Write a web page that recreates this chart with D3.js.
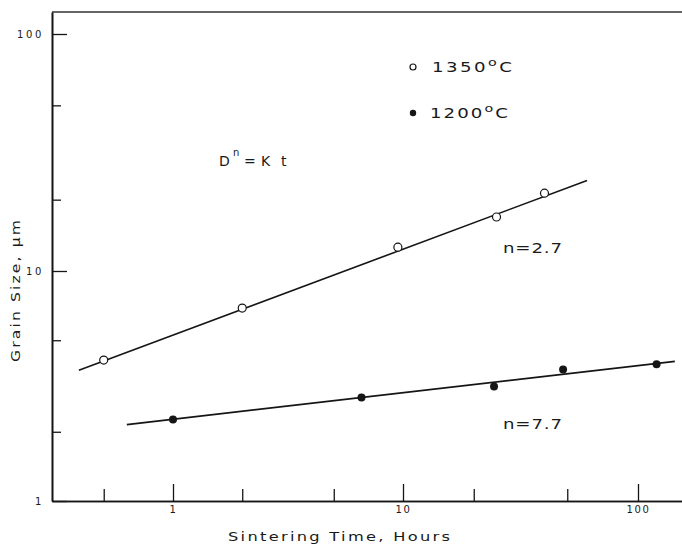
<!DOCTYPE html>
<html>
<head>
<meta charset="utf-8">
<script src="https://cdn.jsdelivr.net/npm/d3@7"></script>
<style>
  body { margin: 0; background: #fff; }
  text { font-family: "DejaVu Sans", sans-serif; fill: #1a1a1a; }
</style>
</head>
<body>
<div id="chart"></div>
<script>
// grain size (um) vs sintering time (hours)
const hours1350 = [0.5, 2, 9.5, 25, 40];
const grain1350 = [4.1, 6.9, 12.6, 16.9, 21.3];
const hours1200 = [1, 6.6, 24.4, 48, 120];
const grain1200 = [2.26, 2.82, 3.15, 3.73, 3.93];

// fitted lines, end points only
const fitHours1350 = [0.39, 60.7];
const fitGrain1350 = [3.70, 24.1];
const fitHours1200 = [0.63, 143.6];
const fitGrain1200 = [2.15, 4.05];

const xMajor = [1, 10, 100];
const xMinor = [0.5, 2, 5, 20, 50];
const yMajor = [1, 10, 100];
const yMinor = [2, 5, 20, 50];

const width = 682, height = 545;

// the scanned decades are not quite equal, so the log scales are piecewise
const x = d3.scaleLog()
  .domain([0.298, 1, 10, 100, 154])
  .range([52, 173, 403, 638, 682]);
const y = d3.scaleLog()
  .domain([1, 10, 100, 124])
  .range([501, 271, 34, 12]);

const svg = d3.select("#chart").append("svg")
  .attr("width", width)
  .attr("height", height);

const ink = "#151515";

// x axis, ticks point up into the plot
svg.append("g")
  .attr("transform", "translate(0," + y(1) + ")")
  .call(d3.axisBottom(x).tickValues(xMajor).tickSize(-17).tickSizeOuter(0)
    .tickPadding(5).tickFormat(d3.format("d")));
svg.append("g")
  .attr("transform", "translate(0," + y(1) + ")")
  .call(d3.axisBottom(x).tickValues(xMinor).tickSize(-12).tickSizeOuter(0)
    .tickFormat(""));

// y axis, ticks point right into the plot
const yAx = svg.append("g")
  .attr("transform", "translate(" + x(0.298) + ",0)")
  .call(d3.axisLeft(y).tickValues(yMajor).tickSize(-15).tickSizeOuter(0)
    .tickPadding(8).tickFormat(d3.format("d")));
svg.append("g")
  .attr("transform", "translate(" + x(0.298) + ",0)")
  .call(d3.axisLeft(y).tickValues(yMinor).tickSize(-9).tickSizeOuter(0)
    .tickFormat(""));

svg.selectAll(".domain").attr("stroke", ink).attr("stroke-width", 1.6);
svg.selectAll(".tick line").attr("stroke", ink).attr("stroke-width", 1.3);
svg.selectAll(".tick text")
  .style("font-family", "'DejaVu Sans', sans-serif")
  .style("font-size", "10px")
  .style("letter-spacing", "1.6px")
  .attr("fill", "#333");
yAx.selectAll(".tick text").style("letter-spacing", "2.6px");

// frame line along the top
svg.append("line")
  .attr("x1", x(0.298)).attr("x2", x(154))
  .attr("y1", y(124)).attr("y2", y(124))
  .attr("stroke", "#333").attr("stroke-width", 1.6);

// fitted lines
const line = d3.line().x(d => x(d[0])).y(d => y(d[1]));
svg.append("path")
  .datum(d3.zip(fitHours1350, fitGrain1350))
  .attr("d", line)
  .attr("fill", "none").attr("stroke", ink).attr("stroke-width", 1.6);
svg.append("path")
  .datum(d3.zip(fitHours1200, fitGrain1200))
  .attr("d", line)
  .attr("fill", "none").attr("stroke", ink).attr("stroke-width", 1.8);

// data points
svg.append("g").selectAll("circle")
  .data(d3.zip(hours1350, grain1350))
  .join("circle")
  .attr("cx", d => x(d[0])).attr("cy", d => y(d[1]))
  .attr("r", 4)
  .attr("fill", "#fff").attr("stroke", ink).attr("stroke-width", 1.2);
svg.append("g").selectAll("circle")
  .data(d3.zip(hours1200, grain1200))
  .join("circle")
  .attr("cx", d => x(d[0])).attr("cy", d => y(d[1]))
  .attr("r", 4)
  .attr("fill", ink);

// the original lettering is a wide stencil face, so stretch the glyphs
const sx = 1.3;
const label = (tx, ty, w, size) => {
  const t = svg.append("text")
    .attr("transform", "translate(" + tx + "," + ty + ") scale(" + sx + ",1)")
    .style("font-size", (size || 14) + "px");
  if (w) t.attr("textLength", w / sx).attr("lengthAdjust", "spacing");
  return t;
};

// legend
svg.append("circle").attr("cx", 413).attr("cy", 67).attr("r", 3)
  .attr("fill", "#fff").attr("stroke", ink).attr("stroke-width", 1.2);
const t1 = label(432, 72, 80);
t1.append("tspan").text("1350");
t1.append("tspan").attr("dy", -6).style("font-size", "11px").text("o");
t1.append("tspan").attr("dy", 6).text("C");

svg.append("circle").attr("cx", 413).attr("cy", 113).attr("r", 3.2)
  .attr("fill", ink);
const t2 = label(430, 118, 78);
t2.append("tspan").text("1200");
t2.append("tspan").attr("dy", -6).style("font-size", "11px").text("o");
t2.append("tspan").attr("dy", 6).text("C");

// rate law, pieces placed where the original has them
const law = svg.append("text").attr("y", 166).style("font-size", "14px");
law.append("tspan").attr("x", 219).text("D");
law.append("tspan").attr("x", 233).attr("dy", -10).style("font-size", "10px").text("n");
law.append("tspan").attr("x", 244).attr("dy", 10).text("=");
law.append("tspan").attr("x", 261).text("K");
law.append("tspan").attr("x", 281).text("t");

label(503, 253, 59).text("n=2.7");
label(503, 429, 59).text("n=7.7");

// axis titles
label(228, 541, 222, 12.5).text("Sintering Time, Hours");
svg.append("text")
  .attr("transform", "translate(20,291) rotate(-90) scale(1.2,1)")
  .attr("text-anchor", "middle")
  .attr("textLength", 142 / 1.2).attr("lengthAdjust", "spacing")
  .style("font-size", "13px")
  .text("Grain Size, \u00b5m");
</script>
</body>
</html>
